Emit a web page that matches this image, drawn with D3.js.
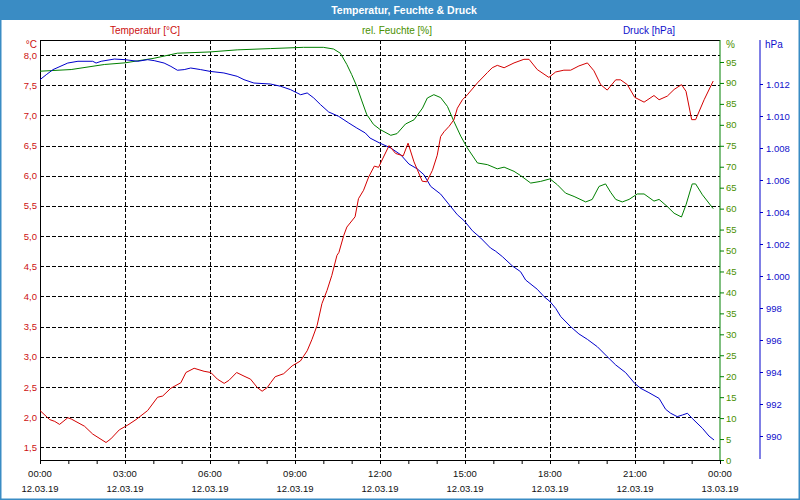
<!DOCTYPE html>
<html><head><meta charset="utf-8">
<script src="https://cdn.jsdelivr.net/npm/d3@7"></script>
<style>
body{margin:0;background:#fff;}
svg{display:block;font-family:"Liberation Sans",Arial,sans-serif;}
</style></head><body>
<svg id="c" width="800" height="500"></svg>
<script>
// ---- data (hours since 12.03.19 00:00, value) ----
const title = "Temperatur, Feuchte & Druck";
const seriesNames = ["Temperatur [°C]", "rel. Feuchte [%]", "Druck [hPa]"];
const tempData = [[0,2.11],[0.34,1.96],[0.52,1.93],[0.69,1.88],[0.98,1.99],[1.1,1.97],[1.57,1.85],[1.86,1.72],[2.33,1.58],[2.5,1.64],[2.8,1.79],[3.1,1.87],[3.39,1.96],[3.8,2.11],[4.15,2.33],[4.33,2.35],[4.62,2.48],[4.97,2.57],[5.15,2.74],[5.44,2.81],[5.79,2.76],[6.03,2.74],[6.26,2.63],[6.5,2.56],[6.67,2.61],[6.94,2.74],[7.2,2.68],[7.43,2.63],[7.67,2.49],[7.84,2.43],[8.02,2.49],[8.14,2.57],[8.3,2.67],[8.6,2.72],[8.9,2.85],[9.19,2.93],[9.43,3.10],[9.6,3.29],[9.78,3.52],[9.95,3.88],[10.13,4.1],[10.3,4.35],[10.48,4.68],[10.55,4.73],[10.72,5.01],[10.83,5.15],[11.12,5.32],[11.24,5.62],[11.42,5.76],[11.6,5.98],[11.8,6.16],[11.95,6.14],[12.04,6.23],[12.32,6.5],[12.55,6.37],[12.82,6.33],[12.99,6.54],[13.2,6.23],[13.49,5.91],[13.65,5.9],[13.85,6.09],[14.02,6.34],[14.14,6.65],[14.26,6.73],[14.44,6.82],[14.61,6.93],[14.73,7.12],[14.91,7.26],[15.08,7.34],[15.44,7.54],[15.79,7.71],[15.96,7.79],[16.14,7.83],[16.38,7.79],[16.73,7.87],[17.08,7.93],[17.26,7.93],[17.55,7.76],[17.96,7.63],[18.2,7.72],[18.49,7.75],[18.73,7.75],[19.02,7.82],[19.32,7.87],[19.55,7.74],[19.79,7.51],[20.02,7.42],[20.32,7.59],[20.49,7.59],[20.73,7.51],[20.99,7.3],[21.32,7.22],[21.67,7.33],[21.85,7.26],[22.14,7.32],[22.38,7.43],[22.64,7.51],[22.8,7.4],[23.0,6.93],[23.14,6.93],[23.44,7.26],[23.76,7.57]];
const humData = [[0,92.8],[1.1,93.2],[2.27,94.4],[3,94.8],[4.03,95.9],[4.85,97.1],[6,97.4],[6.96,97.9],[8.13,98.2],[9.3,98.5],[10.0,98.5],[10.36,98.1],[10.6,97.1],[10.83,94.4],[11.0,92],[11.18,89.2],[11.36,85.7],[11.53,82.5],[11.77,80.1],[12.0,78.9],[12.38,77.5],[12.6,77.9],[12.9,80.2],[13.2,81.2],[13.5,84.0],[13.67,86.4],[13.9,87.2],[14.14,86.5],[14.38,84.4],[14.61,80.8],[14.85,77.3],[15.08,74.5],[15.44,70.9],[15.79,70.5],[16.14,69.5],[16.38,69.9],[16.73,68.9],[16.96,67.9],[17.32,66.1],[17.67,66.5],[18.0,67.1],[18.26,65.7],[18.55,63.7],[18.85,62.9],[19.26,61.6],[19.49,62.2],[19.73,65.3],[19.96,65.9],[20.14,63.9],[20.32,62.2],[20.55,61.6],[20.79,62.2],[21.08,63.5],[21.32,63.5],[21.67,61.8],[21.85,62.2],[22.14,60.5],[22.38,58.9],[22.64,58.0],[22.8,60.9],[23.02,65.9],[23.14,65.9],[23.38,63.3],[23.76,60.0]];
const pressData = [[0,1012.27],[0.22,1012.58],[0.46,1012.9],[0.98,1013.31],[1.34,1013.42],[1.86,1013.42],[1.98,1013.31],[2.16,1013.42],[2.63,1013.56],[3,1013.52],[3.45,1013.42],[3.8,1013.52],[4.03,1013.46],[4.38,1013.31],[4.62,1013.1],[4.85,1012.86],[5.09,1012.9],[5.32,1013.0],[5.67,1012.9],[6,1012.79],[6.49,1012.69],[6.96,1012.48],[7.2,1012.27],[7.55,1012.06],[8.13,1012.0],[8.49,1011.86],[8.84,1011.65],[9.2,1011.33],[9.43,1011.44],[9.66,1011.13],[9.9,1010.71],[10.19,1010.25],[10.54,1009.98],[10.9,1009.56],[11.18,1009.25],[11.48,1008.94],[11.65,1008.62],[12.0,1008.3],[12.38,1008.0],[12.73,1007.58],[13.02,1007.0],[13.32,1006.69],[13.55,1006.33],[13.79,1005.6],[14.14,1005.12],[14.44,1004.46],[14.73,1003.83],[14.99,1003.42],[15.26,1002.83],[15.55,1002.38],[15.9,1001.75],[16.08,1001.55],[16.32,1001.21],[16.67,1000.63],[16.96,1000.27],[17.14,999.75],[17.55,999.17],[17.79,998.71],[18.0,998.4],[18.2,997.98],[18.38,997.46],[18.73,996.83],[19.02,996.38],[19.32,996.04],[19.67,995.58],[20.02,994.96],[20.32,994.44],[20.67,993.96],[20.99,993.29],[21.2,992.98],[21.49,992.71],[21.85,992.35],[22.08,991.67],[22.26,991.42],[22.49,991.21],[22.67,991.31],[22.85,991.42],[23.02,991.1],[23.38,990.48],[23.61,990.0],[23.79,989.75]];
const tempTicks = [1.5,2,2.5,3,3.5,4,4.5,5,5.5,6,6.5,7,7.5,8];
const humTicks = [0,5,10,15,20,25,30,35,40,45,50,55,60,65,70,75,80,85,90,95];
const pressTicks = [990,992,994,996,998,1000,1002,1004,1006,1008,1010,1012];

// ---- setup ----
const svg = d3.select("#c");
const L = 40, R = 720, T = 40, B = 460;
const cRed = "#d40000", cGreen = "#008000", cBlue = "#0000cc";
const tRed = "#cc1010", tGreen = "#4a9000", tBlue = "#1010cc";
const t0 = Date.UTC(2019, 2, 12);
const toDate = h => new Date(t0 + h * 3600e3);

const x = d3.scaleUtc().domain([toDate(0), toDate(24)]).range([L, R]);
const yT = d3.scaleLinear().domain([1.29, 8.25]).range([B, T]);
const yH = d3.scaleLinear().domain([0, 100.25]).range([B, T]);
const yP = d3.scaleLinear().domain([988.5, 1014.75]).range([B, T]);

// frame + title bar
svg.append("rect").attr("x",0.75).attr("y",0.75).attr("width",798.5).attr("height",498.5)
  .attr("fill","#fff").attr("stroke","#3a8cc4").attr("stroke-width",1.5);
svg.append("rect").attr("x",0).attr("y",0).attr("width",800).attr("height",20).attr("fill","#3a8cc4");
svg.append("text").attr("x",404).attr("y",14).attr("text-anchor","middle")
  .attr("fill","#fff").attr("font-weight","bold").attr("font-size",10.5).text(title);

// legends
const legX = [145, 397, 649], legC = [tRed, tGreen, tBlue];
seriesNames.forEach((n,i)=> svg.append("text").attr("x",legX[i]).attr("y",34)
  .attr("text-anchor","middle").attr("font-size",10).attr("fill",legC[i]).text(n));

// grid
const grid = svg.append("g").attr("stroke","#000").attr("stroke-dasharray","4,2")
  .attr("shape-rendering","crispEdges");
grid.selectAll("line.h").data(tempTicks).join("line")
  .attr("x1",L).attr("x2",R).attr("y1",d=>Math.round(yT(d))+0.5).attr("y2",d=>Math.round(yT(d))+0.5);
const vt = d3.utcHour.every(3).range(toDate(3), toDate(22));
grid.selectAll("line.v").data(vt).join("line")
  .attr("y1",T).attr("y2",B).attr("x1",d=>Math.round(x(d))+0.5).attr("x2",d=>Math.round(x(d))+0.5);

// plot border
svg.append("path").attr("d",`M${R},${T+0.5}H${L+0.5}V${B+0.5}H${R}`)
  .attr("fill","none").attr("stroke","#000").attr("shape-rendering","crispEdges");

// left axis (temperature)
const fmtComma = d => d3.format(".1f")(d).replace(".", ",");
const ga = svg.append("g").attr("transform",`translate(${L},0)`)
  .call(d3.axisLeft(yT).tickValues(tempTicks).tickSize(0).tickPadding(3).tickFormat(fmtComma));
ga.select(".domain").remove();
ga.selectAll("text").attr("fill",tRed).attr("font-size",9.5).attr("font-family",null);
svg.append("text").attr("x",37).attr("y",48).attr("text-anchor","end").attr("font-size",10).attr("fill",tRed).text("°C");

// right axis (humidity)
const gh = svg.append("g").attr("transform",`translate(${R},0)`)
  .call(d3.axisRight(yH).tickValues(humTicks).tickSize(4).tickPadding(2).tickFormat(d3.format("d")));
gh.select(".domain").attr("stroke",cGreen).attr("d",`M0,${T}V${B}`);
gh.selectAll("line").attr("stroke",cGreen);
gh.selectAll("text").attr("fill",tGreen).attr("font-size",9.5).attr("font-family",null);
svg.append("text").attr("x",726).attr("y",48).attr("font-size",10).attr("fill",tGreen).text("%");

// right axis (pressure)
const fmtP = d => d >= 1000 ? d3.format(".3f")(d/1000) : String(d);
const gp = svg.append("g").attr("transform",`translate(760,0)`)
  .call(d3.axisRight(yP).tickValues(pressTicks).tickSize(3).tickPadding(3).tickFormat(fmtP));
gp.select(".domain").attr("stroke",cBlue).attr("d",`M0,${T}V${B-1}`);
gp.selectAll("line").attr("stroke",cBlue);
gp.selectAll("text").attr("fill",tBlue).attr("font-size",9.5).attr("font-family",null);
svg.append("text").attr("x",765).attr("y",48).attr("font-size",10).attr("fill",tBlue).text("hPa");

// bottom axis
const gx = svg.append("g").attr("transform",`translate(0,${B})`)
  .call(d3.axisBottom(x).ticks(d3.utcHour.every(1)).tickSize(4).tickFormat(""));
gx.select(".domain").remove();
gx.selectAll("line").attr("stroke","#000");
const lt = d3.utcHour.every(3).range(toDate(0), toDate(24.1));
const lab = svg.append("g").attr("font-size",9.5).attr("fill","#111").attr("text-anchor","middle");
lab.selectAll("text.t").data(lt).join("text").attr("x",d=>x(d)).attr("y",477)
  .text(d3.utcFormat("%H:%M"));
lab.selectAll("text.d").data(lt).join("text").attr("x",d=>x(d)).attr("y",492)
  .text(d3.utcFormat("%d.%m.%y"));

// series
const line = (ys) => d3.line().x(d=>x(toDate(d[0]))).y(d=>ys(d[1]));
const plot = svg.append("g").attr("fill","none").attr("stroke-width",1);
plot.append("path").datum(humData).attr("stroke",cGreen).attr("d",line(yH));
plot.append("path").datum(pressData).attr("stroke",cBlue).attr("d",line(yP));
plot.append("path").datum(tempData).attr("stroke",cRed).attr("d",line(yT));
</script></body></html>
